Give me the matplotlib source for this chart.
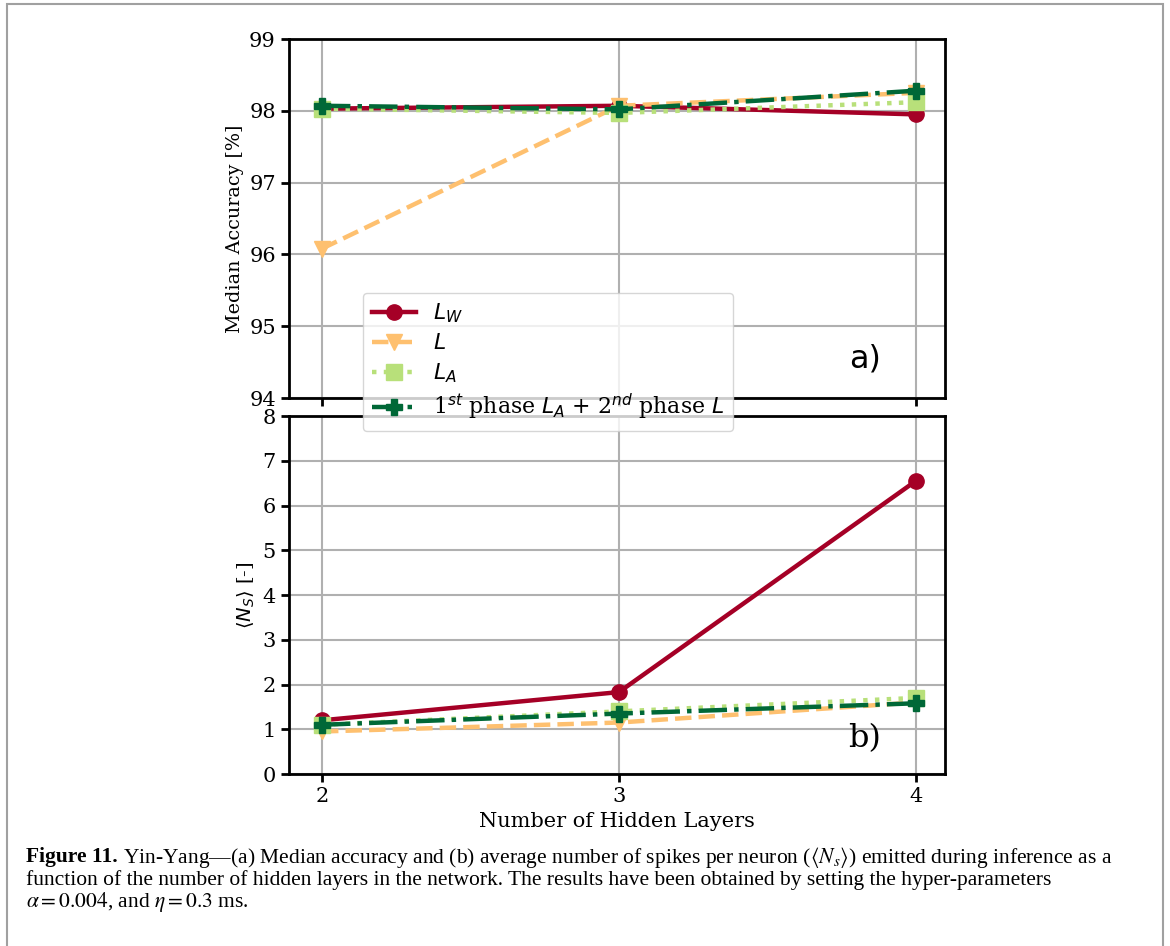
import matplotlib
matplotlib.use("Agg")
import matplotlib.pyplot as plt
from matplotlib.patches import Rectangle

layers = [2, 3, 4]

acc_lw = [98.03, 98.07, 97.95]
acc_l = [96.08, 98.07, 98.25]
acc_la = [98.03, 97.97, 98.12]
acc_mix = [98.07, 98.02, 98.28]

spk_lw = [1.2, 1.83, 6.55]
spk_l = [0.95, 1.15, 1.6]
spk_la = [1.1, 1.4, 1.7]
spk_mix = [1.1, 1.35, 1.58]

labels = [r"$L_W$", r"$L$", r"$L_A$", r"1$^{st}$ phase $L_A$ + 2$^{nd}$ phase $L$"]
colors = ["#a50026", "#fec06f", "#b8e07a", "#006837"]
markers = ["o", "v", "s", "P"]
styles = ["-", "--", ":", "-."]

plt.rcParams["font.family"] = "DejaVu Serif"
plt.rcParams["font.size"] = 15

fig = plt.figure(figsize=(11.7, 9.46), dpi=100)
W, H = 1170, 946

ax1 = fig.add_axes([289 / W, 1 - 398 / H, 656 / W, 359 / H])
ax2 = fig.add_axes([289 / W, 1 - 774 / H, 656 / W, 358 / H])

handles = []
for ys, c, m, s, lab in zip([acc_lw, acc_l, acc_la, acc_mix], colors, markers, styles, labels):
    h, = ax1.plot(layers, ys, color=c, marker=m, linestyle=s, lw=3.2, ms=11, label=lab)
    handles.append(h)
for ys, c, m, s in zip([spk_lw, spk_l, spk_la, spk_mix], colors, markers, styles):
    ax2.plot(layers, ys, color=c, marker=m, linestyle=s, lw=3.2, ms=11)

for ax in (ax1, ax2):
    ax.set_xlim(1.889, 4.098)
    ax.set_xticks(layers)
    ax.grid(True, color="#b0b0b0", lw=1.5)
    for sp in ax.spines.values():
        sp.set_linewidth(2)
    ax.tick_params(width=2, length=6)

ax1.set_ylim(94, 99)
ax1.set_yticks([94, 95, 96, 97, 98, 99])
ax1.tick_params(axis="x", labelbottom=False)
ax1.set_ylabel("Median Accuracy [%]", fontsize=13.8)
ax1.yaxis.set_label_coords(-0.068, 0.47)
ax1.text(0.878, 0.11, "a)", transform=ax1.transAxes, fontsize=23,
         family="DejaVu Sans", ha="center", va="center")

ax2.set_ylim(0, 8)
ax2.set_yticks(range(9))
ax2.set_xlabel("Number of Hidden Layers")
ax2.set_ylabel(r"$\langle N_S \rangle$ [-]", fontsize=14)
ax2.text(0.878, 0.10, "b)", transform=ax2.transAxes, fontsize=23,
         ha="center", va="center")

fig.legend(handles=handles, loc="upper left", bbox_to_anchor=(363 / W, 1 - 293 / H),
           borderaxespad=0, fontsize=15.8, framealpha=0.8, labelspacing=0.32)

# page frame
fig.patches.append(Rectangle((7 / W, -0.01), 1156 / W, 1 - 4 / H + 0.01, transform=fig.transFigure,
                             fill=False, edgecolor="#a0a0a0", lw=1.5))

cap_kw = dict(fontsize=15.5, family="Liberation Serif", math_fontfamily="stix", va="center")
head = fig.text(26 / W, 1 - 857 / H, "Figure 11.", weight="bold", **cap_kw)
fig.canvas.draw()
bb = head.get_window_extent(fig.canvas.get_renderer())
fig.text((bb.x1 + 5) / W, 1 - 857 / H,
         r"Yin-Yang—(a) Median accuracy and (b) average number of spikes per neuron ($\langle N_s \rangle$) "
         "emitted during inference as a", **cap_kw)
fig.text(26 / W, 1 - 880 / H,
         "function of the number of hidden layers in the network. The results have been obtained by setting the hyper-parameters",
         **cap_kw)
fig.text(26 / W, 1 - 902 / H, r"$\alpha = 0.004$, and $\eta = 0.3$ ms.", **cap_kw)

fig.savefig("out.png", dpi=100)
